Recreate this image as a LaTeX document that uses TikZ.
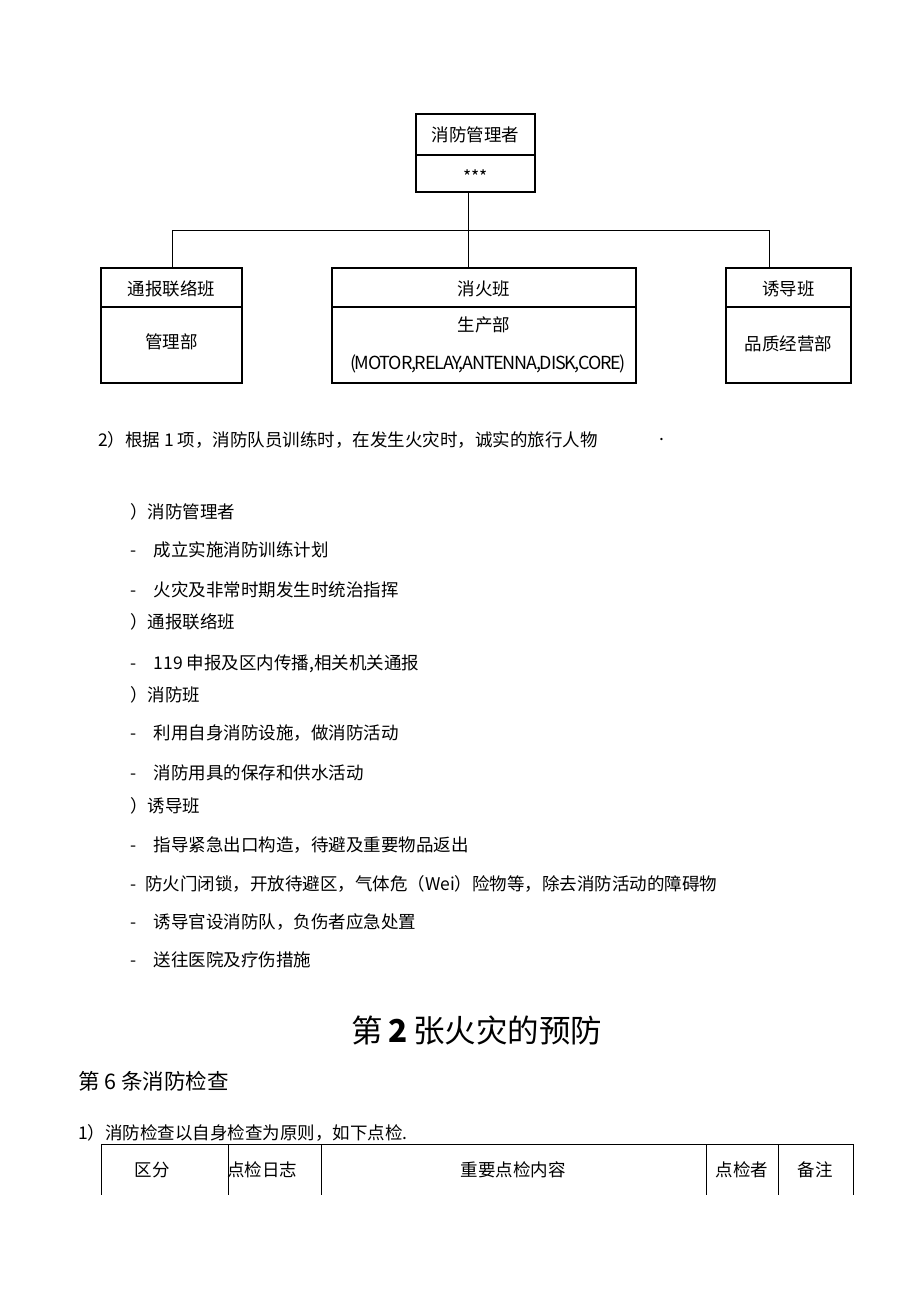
\documentclass[tikz,border=0pt]{standalone}
\usepackage{fontspec}
\setmainfont{Noto Sans CJK SC}
\begin{document}
\begin{tikzpicture}[x=1pt,y=-1pt,
  bx/.style={draw,line width=1.3pt},
  ln/.style={draw,line width=0.8pt},
  t/.style={font=\fontsize{17.5}{20}\selectfont,inner sep=0pt},
  b/.style={font=\fontsize{17.5}{20}\selectfont,anchor=west,inner sep=0pt}]
\useasboundingbox (0,0) rectangle (920,1301);
\draw[bx] (416,114) rectangle (535,192); \draw[bx] (416,155) -- (535,155);
\node[t] (m1) at (475.5,135) {消防管理者};
\node[t] (m2) at (475.5,177) {***};
\coordinate (top) at (468,192);
\coordinate (j) at (468,230);
\draw[ln] (top) -- (j);
\draw[ln] (172,268) -- (172,230) -- (769,230) -- (769,268);
\draw[ln] (468,230) -- (468,268);
\draw[bx] (101,268) rectangle (242,383); \draw[bx] (101,307) -- (242,307);
\draw[bx] (332,268) rectangle (636,383); \draw[bx] (332,307) -- (636,307);
\draw[bx] (726,268) rectangle (851,383); \draw[bx] (726,307) -- (851,307);
\node[t] (a1) at (171.5,289) {通报联络班};
\node[t] (a2) at (171.5,342) {管理部};
\node[t] (b1) at (484,289) {消火班};
\node[t] (b2) at (484,325) {生产部};
\node[t,font=\fontsize{18}{20}\selectfont\addfontfeatures{LetterSpace=-7}] (b3) at (488,364) {(MOTOR,RELAY,ANTENNA,DISK,CORE)};
\node[t] (c1) at (788.5,289) {诱导班};
\node[t] (c2) at (788.5,344) {品质经营部};
\node[b] (l0) at (98,440) {2）根据 1 项，消防队员训练时，在发生火灾时，诚实的旅行人物};
\node[b] (l0b) at (659,440) {.};
\node[b] (l1) at (130,512) {）消防管理者};
\node[b] (l2) at (130,550) {-\hspace{1em}成立实施消防训练计划};
\node[b] (l3) at (130,590) {-\hspace{1em}火灾及非常时期发生时统治指挥};
\node[b] (l4) at (130,622) {）通报联络班};
\node[b] (l5) at (130,664) {-\hspace{1em}119 申报及区内传播,相关机关通报};
\node[b] (l6) at (130,695) {）消防班};
\node[b] (l7) at (130,733) {-\hspace{1em}利用自身消防设施，做消防活动};
\node[b] (l8) at (130,773) {-\hspace{1em}消防用具的保存和供水活动};
\node[b] (l9) at (130,806) {）诱导班};
\node[b] (l10) at (130,845) {-\hspace{1em}指导紧急出口构造，待避及重要物品返出};
\node[b] (l11) at (130,884) {-\hspace{0.5em}防火门闭锁，开放待避区，气体危（Wei）险物等，除去消防活动的障碍物};
\node[b] (l12) at (130,922) {-\hspace{1em}诱导官设消防队，负伤者应急处置};
\node[b] (l13) at (130,960) {-\hspace{1em}送往医院及疗伤措施};
\node[inner sep=0pt,font=\fontsize{31.5}{36}\selectfont] (h1) at (477,1030) {第\,\textbf{2}\,张火灾的预防};
\node[b,font=\fontsize{21.5}{26}\selectfont] (h2) at (78,1081) {第 6 条消防检查};
\node[b] (l14) at (78,1133) {1）消防检查以自身检查为原则，如下点检.};
\draw[ln] (101,1144) -- (853,1144);
\foreach \x in {101,228,321,706,778,853} \draw[ln] (\x,1144) -- (\x,1195);
\node[t] (k1) at (152,1170) {区分};
\node[t] (k2) at (262,1170) {点检日志};
\node[t] (k3) at (513,1170) {重要点检内容};
\node[t] (k4) at (742,1170) {点检者};
\node[t] (k5) at (815,1170) {备注};
\end{tikzpicture}
\end{document}
